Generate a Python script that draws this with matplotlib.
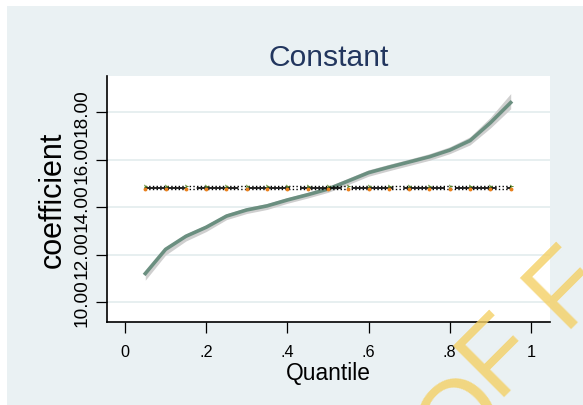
import matplotlib
matplotlib.use("Agg")
import matplotlib.pyplot as plt
from matplotlib.patches import Rectangle

plt.rcParams["font.family"] = ["Liberation Sans", "DejaVu Sans"]

# quantile regression estimates for the constant term
quantiles = [0.05, 0.10, 0.15, 0.20, 0.25, 0.30, 0.35, 0.40, 0.45, 0.50,
             0.55, 0.60, 0.65, 0.70, 0.75, 0.80, 0.85, 0.90, 0.95]
coef = [11.20, 12.22, 12.77, 13.15, 13.62, 13.88, 14.05, 14.30, 14.52, 14.76,
        15.10, 15.45, 15.68, 15.90, 16.12, 16.40, 16.80, 17.55, 18.40]
ci_hi = [11.30, 12.32, 12.87, 13.25, 13.72, 13.98, 14.15, 14.40, 14.62, 14.86,
         15.22, 15.57, 15.80, 16.02, 16.25, 16.54, 16.96, 17.78, 18.78]
ci_lo = [10.92, 11.98, 12.57, 12.97, 13.47, 13.73, 13.90, 14.16, 14.38, 14.62,
         14.95, 15.30, 15.53, 15.75, 15.97, 16.25, 16.62, 17.33, 18.14]

# OLS estimate and its bounds
ols_coef = 14.82
ols_hi = 14.88
ols_lo = 14.76

xticks = [0, 0.2, 0.4, 0.6, 0.8, 1.0]
xtick_labels = ["0", ".2", ".4", ".6", ".8", "1"]
yticks = [10, 12, 14, 16, 18]
ytick_labels = ["10.00", "12.00", "14.00", "16.00", "18.00"]

W, H = 583, 406
bg = "#eaf1f3"
fig = plt.figure(figsize=(W / 100, H / 100), dpi=100, facecolor="white")
fig.patches.append(Rectangle((7 / W, 0), 1, (H - 7) / H, transform=fig.transFigure,
                             facecolor=bg, edgecolor="none", zorder=-10))

ax = fig.add_axes([107 / W, 83 / H, 443 / W, 246 / H])
ax.set_facecolor("white")

ax.fill_between(quantiles, ci_lo, ci_hi, color="#cfcfcf", lw=0, zorder=2)
ax.plot(quantiles, coef, color="#6b8f80", lw=2.6, zorder=3)

n = len(quantiles)
ax.plot(quantiles, [ols_coef] * n, color="black", lw=1.2, dashes=(25, 6), zorder=4)
ax.plot(quantiles, [ols_hi] * n, color="black", lw=1.0, ls=":", zorder=4)
ax.plot(quantiles, [ols_lo] * n, color="black", lw=1.0, ls=":", zorder=4)
ax.plot(quantiles, [ols_lo] * n, ls="none", marker="o", ms=1.8, color="#e8801e", zorder=5)
ax.plot(quantiles, [ols_hi] * n, ls="none", marker="4", ms=3.0, color="#5a8a2a",
        mew=0.7, zorder=5)

ax.set_xlim(-0.0443, 1.0468)
ax.set_ylim(9.16, 19.52)
ax.set_xticks(xticks, xtick_labels)
ax.set_yticks(yticks, ytick_labels)

ax.grid(axis="y", color="#e3ecee", lw=1.2)
ax.set_axisbelow(True)
for side in ["top", "right"]:
    ax.spines[side].set_visible(False)
for side in ["left", "bottom"]:
    ax.spines[side].set_linewidth(1.2)

ax.tick_params(axis="y", length=8, width=0.9, pad=4, labelsize=13.7, labelrotation=90)
for lbl in ax.get_yticklabels():
    lbl.set_verticalalignment("center")
ax.tick_params(axis="x", length=8, width=0.9, pad=8, labelsize=11.7)

ax.set_title("Constant", fontsize=21.6, color="#22365e", pad=8)
ax.set_xlabel("Quantile", fontsize=16.4, labelpad=1)
ax.set_ylabel("coefficient", fontsize=22, labelpad=4)

# diagonal watermark letters, placed by their baseline origin in pixels
for ch, (px, py) in [("O", (453, 467)), ("F", (496, 397)), ("F", (563, 329))]:
    fig.text(px / W, (H - py) / H, ch, rotation=45, rotation_mode="anchor",
             ha="left", va="baseline", fontsize=75.6, color="#f4d064", alpha=0.8,
             zorder=10)

fig.savefig("out.png", dpi=100, facecolor=fig.get_facecolor())
